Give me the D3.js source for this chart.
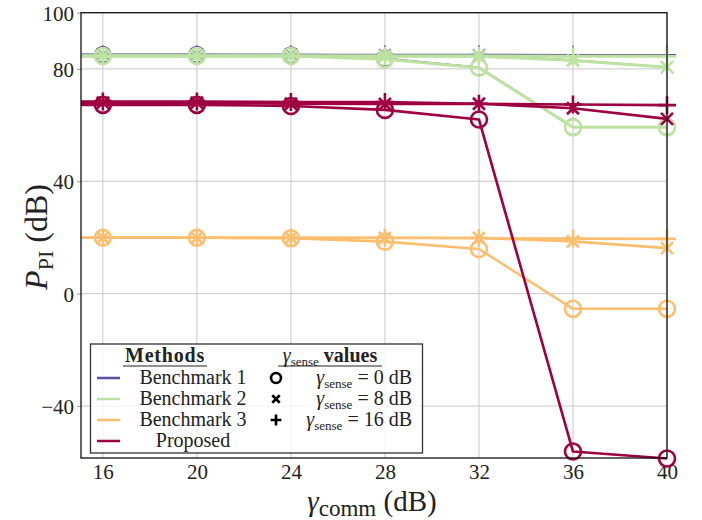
<!DOCTYPE html>
<html>
<head>
<meta charset="utf-8">
<script src="https://cdn.jsdelivr.net/npm/d3@7"></script>
<style>
  body { margin: 0; background: #fff; }
  text { font-family: "Liberation Serif", "DejaVu Serif", serif; fill: #222; }
</style>
</head>
<body>
<svg id="chart" width="702" height="520"></svg>
<script>
// x values: communication SINR threshold (dB)
const gammaComm = [16, 20, 24, 28, 32, 36, 40];
// sensing SINR thresholds (dB), one marker shape each
const senseLevels = [0, 8, 16];
const methods = ["Benchmark 1", "Benchmark 2", "Benchmark 3", "Proposed"];
const methodColors = ["#5e4fa2", "#bde3a0", "#fdbf6f", "#9e0142"];
const yTicks = [-40, 0, 40, 80, 100];

// P_PI (dB), per method, per sensing threshold (0, 8, 16 dB)
const bench1Sense0  = [85.2, 85.2, 85.0, 83.8, 80.6, 59.4, 59.4];
const bench1Sense8  = [85.2, 85.2, 85.2, 85.0, 85.0, 83.2, 80.6];
const bench1Sense16 = [85.2, 85.2, 85.2, 85.2, 85.2, 85.1, 85.1];

const bench2Sense0  = [84.6, 84.6, 84.6, 83.4, 80.4, 59.2, 59.2];
const bench2Sense8  = [84.6, 84.6, 84.6, 84.5, 84.5, 83.0, 80.6];
const bench2Sense16 = [84.6, 84.6, 84.6, 84.6, 84.6, 84.5, 84.5];

const bench3Sense0  = [19.9, 19.9, 19.7, 18.5, 15.9, -5.4, -5.4];
const bench3Sense8  = [19.9, 19.9, 19.9, 19.8, 19.8, 18.6, 16.2];
const bench3Sense16 = [19.9, 19.9, 19.9, 19.9, 19.8, 19.6, 19.5];

const propSense0  = [67.2, 67.2, 66.8, 65.4, 62.0, -56.2, -58.7];
const propSense8  = [68.0, 68.0, 67.6, 67.5, 67.6, 66.0, 62.2];
const propSense16 = [68.4, 68.4, 68.2, 68.2, 67.6, 67.3, 67.1];

const seriesByMethod = [
  [bench1Sense0, bench1Sense8, bench1Sense16],
  [bench2Sense0, bench2Sense8, bench2Sense16],
  [bench3Sense0, bench3Sense8, bench3Sense16],
  [propSense0, propSense8, propSense16]
];
const lineWidths = [1.3, 3, 2.6, 2.6];

const svg = d3.select("#chart");
const plotLeft = 81, plotRight = 667, plotTop = 12.7, plotBottom = 458;

const x = d3.scaleLinear().domain([15.07, 40]).range([plotLeft, plotRight]);
const y = d3.scaleLinear().domain([-58.5, 100]).range([plotBottom, plotTop]);

// grid
const grid = svg.append("g").attr("stroke", "#c8c8c8").attr("stroke-width", 1);
grid.selectAll("line.v").data(gammaComm).join("line").attr("class", "v")
  .attr("x1", d => x(d)).attr("x2", d => x(d)).attr("y1", plotTop).attr("y2", plotBottom);
grid.selectAll("line.h").data(yTicks).join("line").attr("class", "h")
  .attr("x1", plotLeft).attr("x2", plotRight).attr("y1", d => y(d)).attr("y2", d => y(d));

// axes
const xAxis = svg.append("g").attr("transform", `translate(0,${plotBottom})`)
  .call(d3.axisBottom(x).tickValues(gammaComm).tickSize(0).tickPadding(6));
const yAxis = svg.append("g").attr("transform", `translate(${plotLeft},0)`)
  .call(d3.axisLeft(y).tickValues(yTicks).tickSize(4).tickPadding(3).tickFormat(d3.format("d")));
[xAxis, yAxis].forEach(a => {
  a.select(".domain").remove();
  a.selectAll(".tick line").attr("stroke", "#999");
  a.selectAll("text").attr("font-size", 21).attr("fill", "#222")
    .style("font-family", '"Liberation Serif", serif');
});
xAxis.selectAll("text").attr("dy", "0.7em");
yAxis.selectAll("text").attr("dy", "0.35em");

// series
const line = d3.line().x(d => x(d[0])).y(d => y(d[1]));
const plot = svg.append("g");

function drawMarker(g, kind, cx, cy, color, sw, scale) {
  if (kind === 0) {
    g.append("circle").attr("cx", cx).attr("cy", cy).attr("r", 8 * scale)
      .attr("fill", "none").attr("stroke", color).attr("stroke-width", sw);
  } else if (kind === 1) {
    const h = 6 * scale;
    g.append("path").attr("d", `M${cx-h},${cy-h}L${cx+h},${cy+h}M${cx-h},${cy+h}L${cx+h},${cy-h}`)
      .attr("stroke", color).attr("stroke-width", sw).attr("fill", "none");
  } else {
    const h = 9 * scale;
    g.append("path").attr("d", `M${cx-h},${cy}L${cx+h},${cy}M${cx},${cy-h}L${cx},${cy+h}`)
      .attr("stroke", color).attr("stroke-width", sw).attr("fill", "none");
  }
}

seriesByMethod.forEach((group, mi) => {
  const color = methodColors[mi];
  group.forEach((vals, si) => {
    // a short lead-in from the left frame edge at the first value
    const pts = [[x.domain()[0], vals[0]]].concat(gammaComm.map((g, i) => [g, vals[i]]));
    plot.append("path").attr("d", line(pts)).attr("fill", "none")
      .attr("stroke", color).attr("stroke-width", lineWidths[mi])
      .attr("stroke-linejoin", "round");
    const mg = plot.append("g");
    gammaComm.forEach((g, i) => drawMarker(mg, si, x(g), y(vals[i]), color,
      mi === 0 ? 1.3 : 2.6, 1));
  });
});

// frame
svg.append("rect").attr("x", plotLeft).attr("y", plotTop).attr("width", plotRight - plotLeft)
  .attr("height", plotBottom - plotTop).attr("fill", "none").attr("stroke", "#111").attr("stroke-width", 1.3);

// axis titles
const xt = svg.append("text").attr("x", 372).attr("y", 511).attr("text-anchor", "middle")
  .attr("font-size", 29);
xt.append("tspan").attr("font-style", "italic").text("γ");
xt.append("tspan").attr("font-size", 23).attr("dy", 5).text("comm");
xt.append("tspan").attr("dy", -5).text(" (dB)");

const yt = svg.append("text").attr("transform", "translate(47,237) rotate(-90)")
  .attr("text-anchor", "middle").attr("font-size", 32);
yt.append("tspan").attr("font-style", "italic").text("P");
yt.append("tspan").attr("font-size", 22).attr("dy", 6).text("PI");
yt.append("tspan").attr("dy", -6).text(" (dB)");

// legend
const lg = svg.append("g");
lg.append("rect").attr("x", 90.5).attr("y", 344).attr("width", 332).attr("height", 109)
  .attr("fill", "rgba(255,255,255,0.8)").attr("stroke", "#333").attr("stroke-width", 1.3);
const rowsY = [378, 399, 420, 441];
lg.append("text").attr("x", 165).attr("y", 362).attr("text-anchor", "middle")
  .attr("font-size", 20).attr("font-weight", "bold").attr("letter-spacing", 0.8).text("Methods");
lg.append("line").attr("x1", 123).attr("x2", 207).attr("y1", 366).attr("y2", 366)
  .attr("stroke", "#222").attr("stroke-width", 1.2);
methods.forEach((m, i) => {
  lg.append("line").attr("x1", 97).attr("x2", 120).attr("y1", rowsY[i]).attr("y2", rowsY[i])
    .attr("stroke", methodColors[i]).attr("stroke-width", 2.5);
  lg.append("text").attr("x", 193).attr("y", rowsY[i] + 6).attr("text-anchor", "middle")
    .attr("font-size", 20).text(m);
});
const sh = lg.append("text").attr("x", 330).attr("y", 362).attr("text-anchor", "middle")
  .attr("font-size", 20);
sh.append("tspan").attr("font-style", "italic").text("γ");
sh.append("tspan").attr("font-size", 13).attr("dy", 4).text("sense");
sh.append("tspan").attr("dy", -4).attr("font-weight", "bold").text(" values");
lg.append("line").attr("x1", 278).attr("x2", 382).attr("y1", 366).attr("y2", 366)
  .attr("stroke", "#222").attr("stroke-width", 1.2);
senseLevels.forEach((s, i) => {
  drawMarker(lg, i, 276, rowsY[i], "#000", 2.6, i === 2 ? 0.6 : 0.62);
  const t = lg.append("text").attr("x", 412).attr("y", rowsY[i] + 6).attr("text-anchor", "end")
    .attr("font-size", 20);
  t.append("tspan").attr("font-style", "italic").text("γ");
  t.append("tspan").attr("font-size", 13).attr("dy", 4).text("sense");
  t.append("tspan").attr("dy", -4).text(` = ${s} dB`);
});
</script>
</body>
</html>
